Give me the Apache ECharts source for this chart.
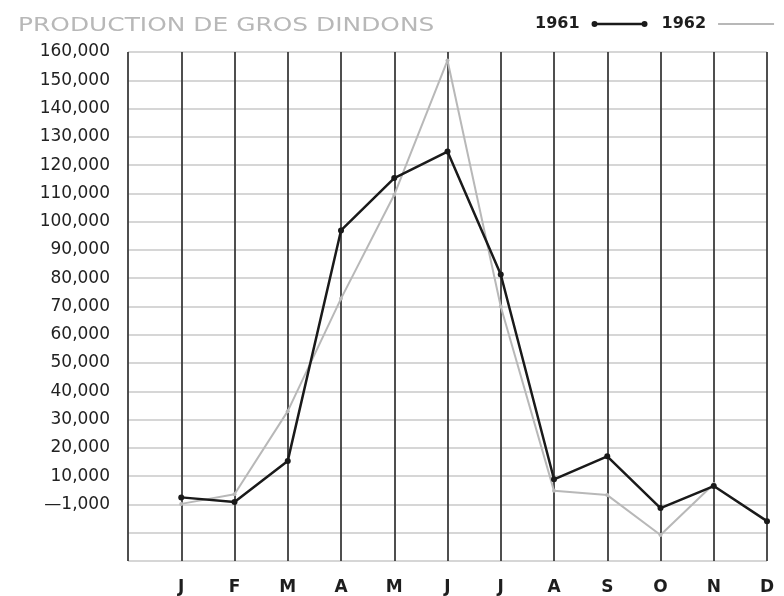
<!DOCTYPE html>
<html>
<head>
<meta charset="utf-8">
<script src="https://cdn.jsdelivr.net/npm/echarts@6/dist/echarts.min.js"></script>
<style>
  html, body { margin: 0; padding: 0; background: #ffffff; }
  #chart { width: 784px; height: 596px; }
</style>
</head>
<body>
<div id="chart"></div>
<script>
// Monthly production of heavy turkeys, 1961 vs 1962
const months = ['J', 'F', 'M', 'A', 'M', 'J', 'J', 'A', 'S', 'O', 'N', 'D'];
const prod1961 = [2500, 900, 15400, 96900, 115400, 124800, 81300, 8900, 17000, -1300, 6500, -5900];
const prod1962 = [200, 3600, 33000, 72800, 109500, 157000, 70000, 4800, 3300, -10800, 7200, null];

// Value-axis ticks and the text printed beside each one
const yTickValues = [-20000, -10000, 0, 10000, 20000, 30000, 40000, 50000, 60000, 70000, 80000,
  90000, 100000, 110000, 120000, 130000, 140000, 150000, 160000];
const yTickLabels = ['', '', '\u20141,000', '10,000', '20,000', '30,000', '40,000', '50,000', '60,000',
  '70,000', '80,000', '90,000', '100,000', '110,000', '120,000', '130,000', '140,000', '150,000', '160,000'];

const titleText = 'PRODUCTION DE GROS DINDONS';
const seriesNames = ['1961', '1962'];

const chart = echarts.init(document.getElementById('chart'), null, { renderer: 'canvas' });

const pairs = (arr) => arr.map((v, i) => [i + 1, v]);

// legend icons: a line with a dot at each end, and a plain thin line
const iconDotted = 'path://M0,3A3,3,0,1,1,6,3A3,3,0,1,1,0,3Z M3,1.8L53,1.8L53,4.2L3,4.2Z M50,3A3,3,0,1,1,56,3A3,3,0,1,1,50,3Z';
const iconPlain = 'path://M0,2L56,2L56,4L0,4Z';

chart.setOption({
  backgroundColor: '#ffffff',
  animation: false,
  graphic: [{
    type: 'text',
    x: 18,
    y: 26,
    scaleX: 1.31,
    style: {
      text: titleText,
      fontFamily: 'DejaVu Sans',
      fontSize: 19,
      fill: '#b8b8b8',
      verticalAlign: 'middle'
    }
  }],
  legend: {
    data: [
      { name: seriesNames[0], icon: iconDotted },
      { name: seriesNames[1], icon: iconPlain }
    ],
    left: 535,
    top: 16,
    padding: 0,
    align: 'right',
    itemWidth: 56,
    itemHeight: 6,
    itemGap: 14,
    selectedMode: false,
    textStyle: {
      fontFamily: 'DejaVu Sans',
      fontWeight: 'bold',
      fontSize: 16,
      color: '#1e1e1e',
      padding: [0, 7, 0, 0]
    }
  },
  grid: { left: 128, right: 17, top: 52, bottom: 34 },
  xAxis: {
    type: 'value',
    min: 0,
    max: 12,
    interval: 1,
    axisLine: { show: false },
    axisTick: { show: false },
    axisLabel: {
      margin: 18,
      fontFamily: 'DejaVu Sans',
      fontWeight: 'bold',
      fontSize: 17,
      color: '#1e1e1e',
      formatter: (v) => (v >= 1 && v <= 12 ? months[v - 1] : '')
    },
    splitLine: { show: true, lineStyle: { color: '#3c3c3c', width: 1.8 } }
  },
  yAxis: {
    type: 'value',
    min: -20000,
    max: 160000,
    interval: 10000,
    axisLine: { show: false },
    axisTick: { show: false },
    axisLabel: {
      margin: 18,
      fontFamily: 'DejaVu Sans',
      fontSize: 17,
      color: '#222222',
      padding: [6, 0, 0, 0],
      formatter: (v) => {
        const i = yTickValues.indexOf(v);
        return i >= 0 ? yTickLabels[i] : '';
      }
    },
    splitLine: { show: true, lineStyle: { color: '#c8c8c8', width: 1.5 } }
  },
  series: [
    {
      name: seriesNames[1],
      type: 'line',
      data: pairs(prod1962),
      connectNulls: false,
      symbol: 'circle',
      symbolSize: 4,
      itemStyle: { color: '#b8b8b8' },
      lineStyle: { color: '#b8b8b8', width: 2 },
      z: 2
    },
    {
      name: seriesNames[0],
      type: 'line',
      data: pairs(prod1961),
      symbol: 'circle',
      symbolSize: 6,
      itemStyle: { color: '#1a1a1a' },
      lineStyle: { color: '#1a1a1a', width: 2.5 },
      z: 3
    }
  ]
});
</script>
</body>
</html>
